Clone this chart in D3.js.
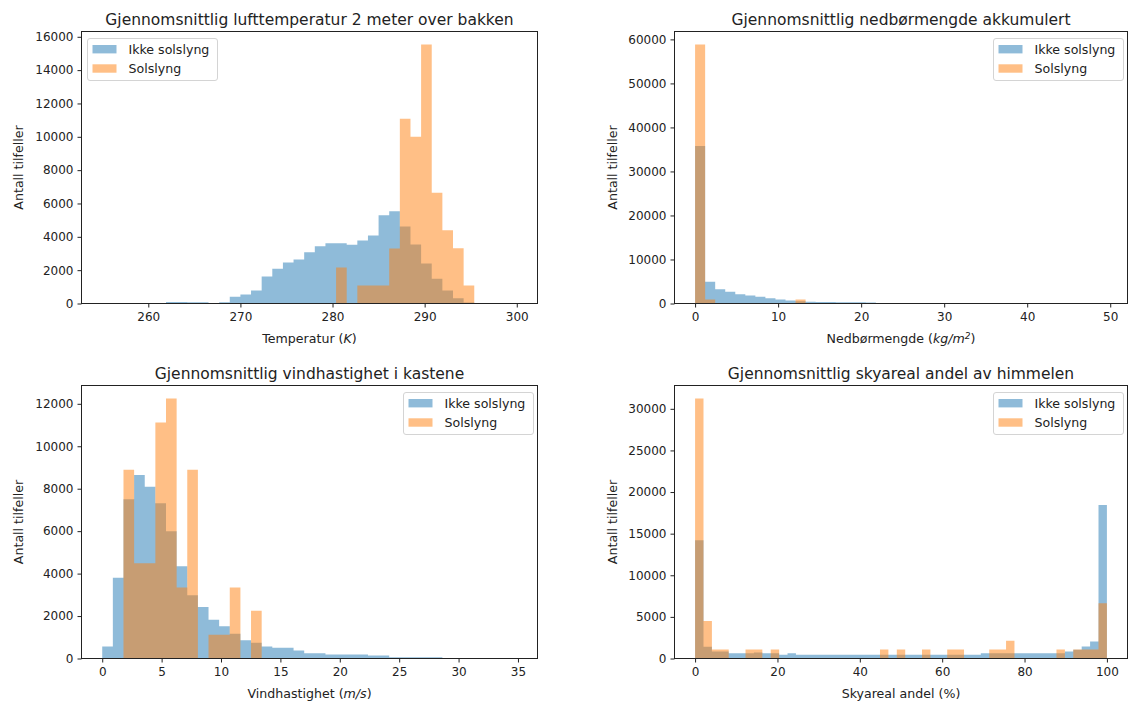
<!DOCTYPE html>
<html>
<head>
<meta charset="utf-8">
<script src="https://cdn.jsdelivr.net/npm/d3@7"></script>
<style>
body { margin: 0; background: #fff; }
text { font-family: 'DejaVu Sans', sans-serif; fill: #222; }
</style>
</head>
<body>
<svg id="fig" width="1128" height="702"></svg>
<script>
var legendLabels = ['Ikke solslyng', 'Solslyng'];
var colors = ['#1f77b4', '#ff7f0e'];
var yLabel = 'Antall tilfeller';

// lufttemperatur, 39 bins from 255 to 300 K
var tempRange = [255, 300];
var tempIkke = [10, 0, 0, 0, 0, 0, 90, 90, 80, 80, 10, 80, 400, 540, 780, 1620, 2080, 2460, 2640, 3080,
    3440, 3620, 3620, 3520, 3780, 4080, 5300, 5540, 4620, 3540, 2400, 1480, 780, 320, 60, 0, 0, 0, 5];
var tempSol = [0, 0, 0, 0, 0, 0, 0, 0, 0, 0, 0, 0, 0, 0, 0, 0, 0, 0, 0, 0,
    0, 0, 2160, 0, 1080, 1080, 1080, 3300, 11080, 10000, 15540, 6640, 4400, 3320, 1080, 0, 0, 0, 0];
var tempTicksX = [260, 270, 280, 290, 300];
var tempTicksY = [0, 2000, 4000, 6000, 8000, 10000, 12000, 14000, 16000];

// nedbør, 41 bins from 0 to 49.6
var precRange = [0, 49.6];
var precIkke = [35780, 4920, 3250, 2650, 2120, 1810, 1510, 1210, 910, 680, 530, 380, 340, 320, 300, 280, 260, 240,
    20, 15, 10, 10, 5, 5, 5, 0, 0, 0, 0, 0, 0, 0, 0, 0, 0, 0, 0, 0, 0, 0, 2];
var precSol = [58850, 910, 0, 0, 0, 0, 0, 0, 0, 0, 910, 0, 0, 0, 0, 0, 0, 0, 0, 0,
    0, 0, 0, 0, 0, 0, 0, 0, 0, 0, 0, 0, 0, 0, 0, 0, 0, 0, 0, 0, 0];
var precTicksX = [0, 10, 20, 30, 40, 50];
var precTicksY = [0, 10000, 20000, 30000, 40000, 50000, 60000];

// vindkast, 39 bins from 0 to 34.9 m/s
var windRange = [0, 34.9];
var windIkke = [565, 3810, 7500, 8645, 8095, 7310, 5990, 4346, 2980, 2432, 1820, 1522, 1161, 863, 737, 565, 502, 502, 377, 251,
    251, 188, 188, 188, 188, 141, 141, 63, 63, 63, 63, 63, 15, 10, 10, 5, 5, 0, 2];
var windSol = [0, 0, 8895, 4490, 4490, 11120, 12250, 3342, 8895, 0, 1114, 1114, 3342, 0, 2244, 0, 0, 0, 0, 0,
    0, 0, 0, 0, 0, 0, 0, 0, 0, 0, 0, 0, 0, 0, 0, 0, 0, 0, 0];
var windTicksX = [0, 5, 10, 15, 20, 25, 30, 35];
var windTicksY = [0, 2000, 4000, 6000, 8000, 10000, 12000];

// skyareal, 49 bins from 0 to 100 %
var cloudRange = [0, 100];
var cloudIkke = [14200, 1400, 840, 840, 640, 640, 640, 720, 640, 640, 440, 640,
    440, 440, 440, 440, 440, 440, 440, 440, 440, 440, 440, 440, 440, 440, 440, 440, 440, 440, 440, 440, 440, 440,
    640, 640, 640, 640, 640, 640, 640, 640, 640, 640, 840, 1040, 1440, 2040, 18440];
var cloudSol = [31240, 4520, 1080, 1080, 0, 0, 1080, 1080, 0, 1080,
    0, 0, 0, 0, 0, 0, 0, 0, 0, 0, 0, 0,
    1080, 0, 1080, 0, 0, 1080, 0, 0, 1080, 1080, 0, 0, 0, 1080, 1080, 2120,
    0, 0, 0, 0, 0, 1080, 0, 1080, 1080, 1080, 6640];
var cloudTicksX = [0, 20, 40, 60, 80, 100];
var cloudTicksY = [0, 5000, 10000, 15000, 20000, 25000, 30000];

var panels = [
    {title: 'Gjennomsnittlig lufttemperatur 2 meter over bakken', range: tempRange, ikke: tempIkke, sol: tempSol,
     xTicks: tempTicksX, yTicks: tempTicksY, legend: 'left',
     xlabel: [['Temperatur (', ''], ['K', 'i'], [')', '']],
     box: {x: 81.5, y: 31.5, w: 456, h: 272}, ylabX: 18},
    {title: 'Gjennomsnittlig nedbørmengde akkumulert', range: precRange, ikke: precIkke, sol: precSol,
     xTicks: precTicksX, yTicks: precTicksY, legend: 'right',
     xlabel: [['Nedbørmengde (', ''], ['kg/m', 'i'], ['2', 'sup'], [')', '']],
     box: {x: 674.5, y: 31.5, w: 453, h: 272}, ylabX: 612},
    {title: 'Gjennomsnittlig vindhastighet i kastene', range: windRange, ikke: windIkke, sol: windSol,
     xTicks: windTicksX, yTicks: windTicksY, legend: 'right',
     xlabel: [['Vindhastighet (', ''], ['m/s', 'i'], [')', '']],
     box: {x: 81.5, y: 385.5, w: 456, h: 273}, ylabX: 18},
    {title: 'Gjennomsnittlig skyareal andel av himmelen', range: cloudRange, ikke: cloudIkke, sol: cloudSol,
     xTicks: cloudTicksX, yTicks: cloudTicksY, legend: 'right',
     xlabel: [['Skyareal andel (%)', '']],
     box: {x: 674.5, y: 385.5, w: 453, h: 273}, ylabX: 612}
];

var svg = d3.select('#fig');
svg.append('rect').attr('width', 1128).attr('height', 702).attr('fill', '#fff');

function drawPanel(p) {
    var n = p.ikke.length;
    var step = (p.range[1] - p.range[0]) / n;
    var edges = d3.range(n + 1).map(function(i) { return p.range[0] + i * step; });
    var pad = 0.05 * (p.range[1] - p.range[0]);

    var x = d3.scaleLinear().domain([p.range[0] - pad, p.range[1] + pad]).range([0, p.box.w]);
    var ymax = 1.05 * d3.max(p.ikke.concat(p.sol));
    var y = d3.scaleLinear().domain([0, ymax]).range([p.box.h, 0]);

    var g = svg.append('g').attr('transform', 'translate(' + p.box.x + ',' + p.box.y + ')');

    var area = d3.area()
        .curve(d3.curveStepAfter)
        .x(function(d) { return x(d.x); })
        .y0(y(0))
        .y1(function(d) { return y(d.v); });

    [p.ikke, p.sol].forEach(function(vals, s) {
        var pts = vals.map(function(v, i) { return {x: edges[i], v: v}; });
        pts.push({x: edges[n], v: vals[n - 1]});
        g.append('path')
            .datum(pts)
            .attr('d', area)
            .attr('fill', colors[s])
            .attr('fill-opacity', 0.5);
    });

    // axes
    var xAxis = g.append('g')
        .attr('transform', 'translate(0,' + p.box.h + ')')
        .call(d3.axisBottom(x).tickValues(p.xTicks).tickSize(4).tickPadding(5).tickFormat(d3.format('d')));
    var yAxis = g.append('g')
        .call(d3.axisLeft(y).tickValues(p.yTicks).tickSize(4).tickPadding(4).tickFormat(d3.format('d')));
    [xAxis, yAxis].forEach(function(a) {
        a.select('.domain').remove();
        a.selectAll('line').attr('stroke', '#222');
        a.selectAll('text').attr('font-size', 12).attr('fill', '#222')
            .style('font-family', "'DejaVu Sans', sans-serif");
    });

    g.append('rect')
        .attr('width', p.box.w)
        .attr('height', p.box.h)
        .attr('fill', 'none')
        .attr('stroke', '#222')
        .attr('stroke-width', 1);

    // title
    g.append('text')
        .text(p.title)
        .attr('x', p.box.w / 2)
        .attr('y', -7)
        .attr('text-anchor', 'middle')
        .attr('font-size', 15.5);

    // x label
    var xl = g.append('text')
        .attr('x', p.box.w / 2)
        .attr('y', p.box.h + 39)
        .attr('text-anchor', 'middle')
        .attr('font-size', 12.6);
    p.xlabel.forEach(function(seg) {
        var t = xl.append('tspan').text(seg[0]);
        if (seg[1] == 'i') t.attr('font-style', 'italic');
        if (seg[1] == 'sup') t.attr('font-style', 'italic').attr('font-size', 9).attr('baseline-shift', '40%');
    });

    // y label
    svg.append('text')
        .text(yLabel)
        .attr('transform', 'translate(' + p.ylabX + ',' + (p.box.y + p.box.h / 2) + ')rotate(-90)')
        .attr('text-anchor', 'middle')
        .attr('dominant-baseline', 'central')
        .attr('font-size', 12.6);

    // legend
    var lw = 130, lh = 42;
    var lx = p.legend == 'left' ? 6 : p.box.w - lw - 4;
    var lg = g.append('g').attr('transform', 'translate(' + lx + ',7)');
    lg.append('rect')
        .attr('width', lw).attr('height', lh)
        .attr('rx', 2.5)
        .attr('fill', '#fff').attr('fill-opacity', 0.8)
        .attr('stroke', '#d4d4d4');
    legendLabels.forEach(function(lab, i) {
        lg.append('rect')
            .attr('x', 5).attr('y', 6.5 + i * 19.3)
            .attr('width', 24).attr('height', 8.4)
            .attr('fill', colors[i]).attr('fill-opacity', 0.5);
        lg.append('text')
            .text(lab)
            .attr('x', 41).attr('y', 15 + i * 19.3)
            .attr('font-size', 12.6);
    });
}

panels.forEach(drawPanel);
</script>
</body>
</html>
